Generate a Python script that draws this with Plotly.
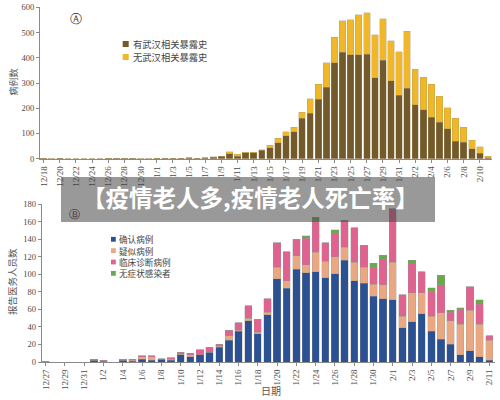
import plotly.graph_objects as go

# ---------------- Chart A data ----------------
datesA = ["12/18", "12/19", "12/20", "12/21", "12/22", "12/23", "12/24", "12/25", "12/26", "12/27",
          "12/28", "12/29", "12/30", "12/31", "1/1", "1/2", "1/3", "1/4", "1/5", "1/6", "1/7", "1/8",
          "1/9", "1/10", "1/11", "1/12", "1/13", "1/14", "1/15", "1/16", "1/17", "1/18", "1/19", "1/20",
          "1/21", "1/22", "1/23", "1/24", "1/25", "1/26", "1/27", "1/28", "1/29", "1/30", "1/31", "2/1",
          "2/2", "2/3", "2/4", "2/5", "2/6", "2/7", "2/8", "2/9", "2/10", "2/11"]
withWuhanExposure = [1, 0, 1, 0, 0, 0, 0, 0, 1, 1, 2, 1, 0, 0, 1, 1, 2, 1, 3, 1, 4, 6, 9,
                     19, 10, 24, 24, 34, 44, 63, 90, 106, 160, 181, 235, 283, 380, 421, 411, 411,
                     413, 321, 390, 308, 252, 280, 213, 194, 164, 145, 118, 70, 65, 40, 21, 4]
withoutWuhanExposure = [0, 0, 0, 0, 0, 0, 0, 0, 0, 0, 0, 0, 0, 0, 0, 0, 0, 0, 0, 0, 0, 1, 1,
                        9, 8, 2, 1, 2, 10, 18, 17, 19, 24, 57, 60, 97, 102, 125, 139, 160,
                        166, 170, 165, 160, 172, 226, 141, 128, 131, 103, 84, 91, 60, 34, 27, 6]
yTicksA = [0, 100, 200, 300, 400, 500, 600]

# ---------------- Chart B data ----------------
datesB = ["12/27", "12/28", "12/29", "12/30", "12/31", "1/1", "1/2", "1/3", "1/4", "1/5", "1/6",
          "1/7", "1/8", "1/9", "1/10", "1/11", "1/12", "1/13", "1/14", "1/15", "1/16", "1/17",
          "1/18", "1/19", "1/20", "1/21", "1/22", "1/23", "1/24", "1/25", "1/26", "1/27", "1/28",
          "1/29", "1/30", "1/31", "2/1", "2/2", "2/3", "2/4", "2/5", "2/6", "2/7", "2/8", "2/9",
          "2/10", "2/11"]
confirmed = [0, 0, 0, 0, 0, 2, 1, 0, 2, 1, 3, 2, 3, 2, 8, 6, 8, 11, 17, 25, 35, 47, 32, 54,
             95, 84, 106, 102, 103, 96, 101, 116, 93, 90, 75, 72, 71, 39, 46, 55, 35, 26, 20,
             8, 13, 6, 2]
suspected = [0, 0, 0, 0, 0, 0, 0, 0, 0, 1, 3, 4, 0, 1, 1, 2, 0, 0, 1, 5, 1, 3, 2, 3,
             13, 9, 15, 9, 22, 19, 19, 15, 21, 18, 14, 16, 43, 13, 33, 24, 17, 30, 27,
             35, 46, 37, 23]
clinical = [1, 0, 0, 0, 0, 1, 1, 0, 1, 1, 1, 1, 1, 2, 2, 2, 6, 6, 2, 6, 9, 14, 15, 15,
            28, 33, 19, 30, 36, 21, 27, 30, 39, 25, 19, 30, 61, 25, 33, 24, 29, 32, 10,
            17, 27, 23, 5]
asymptomatic = [0, 0, 0, 0, 0, 0, 0, 0, 0, 0, 0, 0, 0, 0, 0, 0, 0, 0, 0, 0, 0, 0, 0, 0,
                0, 0, 0, 3, 4, 0, 4, 1, 0, 0, 5, 4, 0, 0, 4, 0, 4, 11, 2, 2, 0, 5, 0]
yTicksB = [0, 20, 40, 60, 80, 100, 120, 140, 160, 180]

seriesA = [("有武汉相关暴露史", withWuhanExposure, "#735a2b"),
           ("无武汉相关暴露史", withoutWuhanExposure, "#f0b828")]
seriesB = [("确认病例", confirmed, "#2c5192"),
           ("疑似病例", suspected, "#eaa882"),
           ("临床诊断病例", clinical, "#e0628f"),
           ("无症状感染者", asymptomatic, "#6aa84f")]

W, H = 500, 400
def px(x):
    return x / W
def py(y):
    return 1 - y / H

SERIF = "Liberation Serif"
CJK = "Noto Sans CJK SC"
AX = "#8a8a8a"
TXT = "#4a4a4a"

fig = go.Figure()
for name, vals, col in seriesA:
    fig.add_trace(go.Bar(x=datesA, y=vals, name=name, width=0.8, showlegend=False,
                         marker=dict(color=col, line=dict(color="rgba(170,150,110,0.7)", width=0.5)),
                         xaxis="x", yaxis="y"))
for name, vals, col in seriesB:
    fig.add_trace(go.Bar(x=datesB, y=vals, name=name, width=0.76, showlegend=False,
                         marker=dict(color=col, line=dict(color="rgba(150,150,150,0.6)", width=0.5)),
                         xaxis="x2", yaxis="y2"))

common_x = dict(type="category", tickangle=-90, ticks="outside", ticklen=3, tickcolor=AX,
                showline=True, linecolor=AX, linewidth=1, showgrid=False, zeroline=False,
                automargin=False, tickfont=dict(family=SERIF, size=9, color=TXT))
common_y = dict(ticks="outside", ticklen=3, tickcolor=AX, showline=True, linecolor=AX,
                linewidth=1, showgrid=False, zeroline=False, automargin=False,
                tickfont=dict(family=SERIF, size=8.5, color=TXT))

fig.update_layout(
    width=W, height=H, margin=dict(l=0, r=0, t=0, b=0, pad=0),
    paper_bgcolor="white", plot_bgcolor="white", barmode="stack",
    xaxis=dict(common_x, domain=[px(40), px(492)], anchor="y", categoryarray=datesA,
               categoryorder="array", range=[-0.45, 55.5],
               tickvals=datesA[::2], ticktext=datesA[::2]),
    yaxis=dict(common_y, domain=[py(158.7), py(7.3)], anchor="x", range=[0, 600],
               tickvals=yTicksA),
    xaxis2=dict(common_x, domain=[px(41.7), px(495)], anchor="y2", categoryarray=datesB,
                categoryorder="array", range=[-0.415, 46.6],
                tickvals=datesB[::2], ticktext=datesB[::2]),
    yaxis2=dict(common_y, domain=[py(362), py(204.3)], anchor="x2", range=[0, 180],
                tickvals=yTicksB),
)

shapes = []
annotations = []

# legend A
for i, (name, vals, col) in enumerate(seriesA):
    cy = 44 + 13 * i
    shapes.append(dict(type="rect", xref="paper", yref="paper", x0=px(122.7), x1=px(128.7),
                       y0=py(cy + 3), y1=py(cy - 3), fillcolor=col, line=dict(width=0)))
    annotations.append(dict(text=name, xref="paper", yref="paper", x=px(131.5), y=py(cy),
                            xanchor="left", yanchor="middle", showarrow=False, borderpad=0,
                            font=dict(family=CJK, size=9.3, color="#444")))
# legend B
for i, (name, vals, col) in enumerate(seriesB):
    cy = 239.3 + 11.35 * i
    shapes.append(dict(type="rect", xref="paper", yref="paper", x0=px(111), x1=px(115.8),
                       y0=py(cy + 2.4), y1=py(cy - 2.4), fillcolor=col, line=dict(width=0)))
    annotations.append(dict(text=name, xref="paper", yref="paper", x=px(117.5), y=py(cy),
                            xanchor="left", yanchor="middle", showarrow=False, borderpad=0,
                            font=dict(family=CJK, size=8.6, color="#444")))

# axis titles
annotations.append(dict(text="病例数", xref="paper", yref="paper", x=px(13.5), y=py(82),
                        textangle=-90, showarrow=False, xanchor="center", yanchor="middle",
                        font=dict(family=CJK, size=9, color="#555")))
annotations.append(dict(text="报告医务人员数", xref="paper", yref="paper", x=px(12), y=py(282),
                        textangle=-90, showarrow=False, xanchor="center", yanchor="middle",
                        font=dict(family=CJK, size=9.5, color="#555")))
annotations.append(dict(text="日期", xref="paper", yref="paper", x=px(271), y=py(390),
                        showarrow=False, xanchor="center", yanchor="middle",
                        font=dict(family=CJK, size=10, color="#555")))

# panel letters
annotations.append(dict(text="Ⓐ", xref="paper", yref="paper", x=px(76), y=py(19.5),
                        showarrow=False, xanchor="center", yanchor="middle",
                        font=dict(family="DejaVu Sans", size=12, color="#333")))

# banner
shapes.append(dict(type="rect", xref="paper", yref="paper", x0=px(61), x1=px(435),
                   y0=py(222), y1=py(177), fillcolor="rgba(70,70,70,0.55)",
                   line=dict(width=0), layer="above"))
annotations.append(dict(text="Ⓑ", xref="paper", yref="paper", x=px(74), y=py(214.5),
                        showarrow=False, xanchor="center", yanchor="middle",
                        font=dict(family="DejaVu Sans", size=11, color="#333")))
annotations.append(dict(text="<b>【疫情老人多,疫情老人死亡率】</b>", xref="paper", yref="paper",
                        x=px(250), y=py(197), showarrow=False, xanchor="center", yanchor="middle",
                        font=dict(family=CJK, size=23.5, color="white")))

fig.update_layout(shapes=shapes, annotations=annotations)
fig.write_html("out.html", config={"displayModeBar": False},
               post_script="document.body.style.margin='0';document.body.style.padding='0';")
